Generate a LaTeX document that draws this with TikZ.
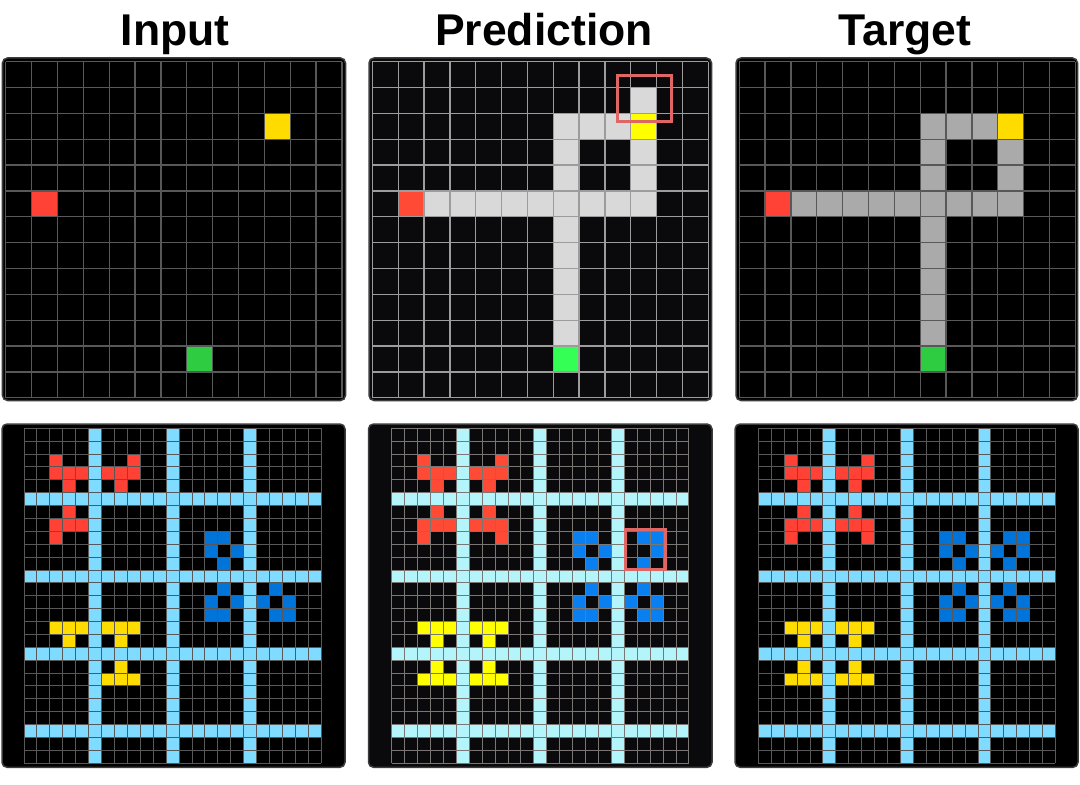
\documentclass[tikz,border=0pt]{standalone}
\usepackage{fontspec}
\setmainfont{Liberation Sans}
\definecolor{arcred}{HTML}{FF4136}
\definecolor{arcyellow}{HTML}{FFDC00}
\definecolor{arcgreen}{HTML}{2ECC40}
\definecolor{arcgray}{HTML}{AAAAAA}
\definecolor{arcblue}{HTML}{0074D9}
\definecolor{arcsky}{HTML}{7FDBFF}
\definecolor{pred}{HTML}{FF4A36}
\definecolor{pyellow}{HTML}{FFFF00}
\definecolor{pgreen}{HTML}{33FF55}
\definecolor{pgray}{HTML}{D9D9D9}
\definecolor{pblue}{HTML}{0A7FF0}
\definecolor{psky}{HTML}{B3F5FB}
\definecolor{pbg}{HTML}{0A0A0C}
\definecolor{gridA}{HTML}{585858}
\definecolor{gridP}{HTML}{9C9C9C}
\definecolor{gridPb}{HTML}{7A7674}
\definecolor{hilite}{HTML}{E06666}
\definecolor{panelrim}{HTML}{3C3C3C}
\newcommand\cellfill[2]{\foreach \cc/\rr in {#2} {\fill[#1] (\cc,\rr) rectangle ++(1,1);}}
\newcommand\gridlines[3]{%
  \foreach \ii in {0,...,#1} {\draw[#3] (\ii,0) -- (\ii,#2);}%
  \foreach \jj in {0,...,#2} {\draw[#3] (0,\jj) -- (#1,\jj);}}
\newcommand\skylines[1]{%
  \foreach \cc in {5,11,17} {\fill[#1] (\cc,0) rectangle ++(1,26);}%
  \foreach \rr in {5,11,17,23} {\fill[#1] (0,\rr) rectangle ++(23,1);}}
\begin{document}
\begin{tikzpicture}[x=1bp,y=-1bp,
  title/.style={font=\bfseries\fontsize{44.5bp}{50bp}\selectfont, anchor=base, inner sep=0pt},
  panel/.style={draw=panelrim, line width=1.5bp, rounded corners=5bp},
  hbox/.style={draw=hilite, line width=3bp}]
\useasboundingbox (0,0) rectangle (1080,785);
\fill[white] (0,0) rectangle (1080,785);

% titles
\node[title] (tin) at (175,46) {Input};
\node[title] (tpr) at (544,46) {Prediction};
\node[title] (tta) at (905,46) {Target};

% ---------- top row ----------
\filldraw[panel, fill=black] (2.5,58) rectangle (345.5,400.5);
\filldraw[panel, fill=pbg] (369,58) rectangle (711.5,400.5);
\filldraw[panel, fill=black] (736,58) rectangle (1077.5,400.5);

\begin{scope}[shift={(5.8,61.7)}, x=25.85bp, y=-25.85bp]
  \cellfill{arcyellow}{10/2}
  \cellfill{arcred}{1/5}
  \cellfill{arcgreen}{7/11}
  \gridlines{13}{13}{gridA, line width=1.3bp}
\end{scope}

\begin{scope}[shift={(372.3,61.7)}, x=25.85bp, y=-25.85bp]
  \cellfill{pgray}{2/5,3/5,4/5,5/5,6/5,7/5,8/5,9/5,10/5,7/2,7/3,7/4,7/6,7/7,7/8,7/9,7/10,8/2,9/2,10/3,10/4,10/1}
  \cellfill{pyellow}{10/2}
  \cellfill{pred}{1/5}
  \cellfill{pgreen}{7/11}
  \gridlines{13}{13}{gridP, line width=1.3bp}
\end{scope}

\begin{scope}[shift={(739.2,61.7)}, x=25.85bp, y=-25.85bp]
  \cellfill{arcgray}{2/5,3/5,4/5,5/5,6/5,7/5,8/5,9/5,10/5,7/2,7/3,7/4,7/6,7/7,7/8,7/9,7/10,8/2,9/2,10/3,10/4}
  \cellfill{arcyellow}{10/2}
  \cellfill{arcred}{1/5}
  \cellfill{arcgreen}{7/11}
  \gridlines{13}{13}{gridA, line width=1.3bp}
\end{scope}

\draw[hbox] (617.5,75.8) rectangle (671,121.5);

% ---------- bottom row ----------
\filldraw[panel, fill=black] (2,424) rectangle (345,767.3);
\filldraw[panel, fill=pbg] (368.5,424) rectangle (712,767.3);
\filldraw[panel, fill=black] (735,424) rectangle (1078,767.3);

\begin{scope}[shift={(24,428.3)}, x=12.92bp, y=-12.88bp]
  \skylines{arcsky}
  \cellfill{arcred}{2/2,2/3,3/3,4/3,3/4,8/2,6/3,7/3,8/3,7/4,3/6,2/7,3/7,4/7,2/8}
  \cellfill{arcblue}{14/8,15/8,14/9,16/9,15/10,15/12,14/13,16/13,14/14,15/14,19/12,18/13,20/13,19/14,20/14}
  \cellfill{arcyellow}{2/15,3/15,4/15,3/16,6/15,7/15,8/15,7/16,7/18,6/19,7/19,8/19}
  \gridlines{23}{26}{gridA, line width=0.9bp}
\end{scope}

\begin{scope}[shift={(391.7,428.3)}, x=12.92bp, y=-12.88bp]
  \skylines{psky}
  \cellfill{pred}{2/2,2/3,3/3,4/3,3/4,8/2,6/3,7/3,8/3,7/4,3/6,2/7,3/7,4/7,2/8,7/6,6/7,7/7,8/7,8/8}
  \cellfill{pblue}{14/8,15/8,14/9,16/9,15/10,15/12,14/13,16/13,14/14,15/14,19/12,18/13,20/13,19/14,20/14,19/8,20/8,20/9,19/10}
  \cellfill{pyellow}{2/15,3/15,4/15,3/16,6/15,7/15,8/15,7/16,7/18,6/19,7/19,8/19,3/18,2/19,3/19,4/19}
  \gridlines{23}{26}{gridPb, line width=0.9bp}
\end{scope}

\begin{scope}[shift={(758.3,428.3)}, x=12.92bp, y=-12.88bp]
  \skylines{arcsky}
  \cellfill{arcred}{2/2,2/3,3/3,4/3,3/4,8/2,6/3,7/3,8/3,7/4,3/6,2/7,3/7,4/7,2/8,7/6,6/7,7/7,8/7,8/8}
  \cellfill{arcblue}{14/8,15/8,14/9,16/9,15/10,15/12,14/13,16/13,14/14,15/14,19/12,18/13,20/13,19/14,20/14,19/8,20/8,18/9,20/9,19/10}
  \cellfill{arcyellow}{2/15,3/15,4/15,3/16,6/15,7/15,8/15,7/16,7/18,6/19,7/19,8/19,3/18,2/19,3/19,4/19}
  \gridlines{23}{26}{gridA, line width=0.9bp}
\end{scope}

\draw[hbox] (625,529) rectangle (665,569);
\end{tikzpicture}
\end{document}
